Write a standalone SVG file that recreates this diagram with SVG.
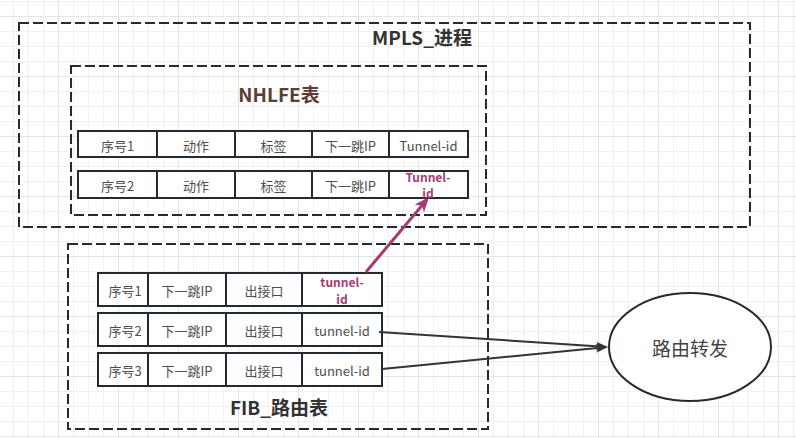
<svg xmlns="http://www.w3.org/2000/svg" width="796" height="438" viewBox="0 0 796 438">
  <defs>
    <pattern id="grid" x="-2" y="16" width="60" height="60" patternUnits="userSpaceOnUse">
      <rect x="0" y="0" width="60" height="60" fill="#ffffff"/>
      <rect x="15" y="0" width="1" height="60" fill="#f0f0f0"/>
      <rect x="30" y="0" width="1" height="60" fill="#f0f0f0"/>
      <rect x="45" y="0" width="1" height="60" fill="#f0f0f0"/>
      <rect x="0" y="15" width="60" height="1" fill="#f0f0f0"/>
      <rect x="0" y="30" width="60" height="1" fill="#f0f0f0"/>
      <rect x="0" y="45" width="60" height="1" fill="#f0f0f0"/>
      <rect x="0" y="0" width="1" height="60" fill="#e4e4e4"/>
      <rect x="0" y="0" width="60" height="1" fill="#e4e4e4"/>
    </pattern>
    <marker id="arrowDark" viewBox="0 0 12 9" refX="4" refY="4.5" markerWidth="12" markerHeight="9" markerUnits="userSpaceOnUse" orient="auto">
      <path d="M0,0 L12,4.5 L0,9 L3,4.5 Z" fill="#333333"/>
    </marker>
    <marker id="arrowPink" viewBox="0 0 15 12" refX="5" refY="6" markerWidth="15" markerHeight="12" markerUnits="userSpaceOnUse" orient="auto">
      <path d="M0,0 L15,6 L0,12 L4,6 Z" fill="#a33b75"/>
    </marker>
  </defs>
  <style>
    .box { fill: none; stroke: #232a31; stroke-width: 2; stroke-dasharray: 10 4; }
    .cell { fill: #ffffff; stroke: #232a31; stroke-width: 2; }
    .t { font-family: "Noto Sans CJK SC", "Noto Sans", sans-serif; font-size: 13px; fill: #4d4d4d; text-anchor: middle; dominant-baseline: central; }
    .hl { font-family: "Noto Sans CJK SC", "Noto Sans", sans-serif; font-size: 12px; font-weight: bold; fill: #a33b75; text-anchor: middle; dominant-baseline: central; }
    .title { font-family: "Noto Sans CJK SC", "Noto Sans", sans-serif; font-size: 19px; font-weight: bold; fill: #333333; text-anchor: middle; dominant-baseline: central; }
    .edge { fill: none; stroke: #333333; stroke-width: 2; }
    .edgePink { fill: none; stroke: #a33b75; stroke-width: 3; }
  </style>

  <rect x="0" y="0" width="796" height="438" fill="url(#grid)"/>

  <g id="mpls">
    <rect class="box" x="19" y="23" width="731" height="204"/>
    <text class="title" x="422" y="36">MPLS_进程</text>
  </g>

  <g id="nhlfe">
    <rect class="box" x="71" y="66" width="415" height="149"/>
    <text class="title" x="279" y="93" style="fill:#5b3d33">NHLFE表</text>
  </g>

  <g id="nhlfe-row1">
    <rect class="cell" x="78" y="131" width="79" height="26"/>
    <rect class="cell" x="157" y="131" width="78" height="26"/>
    <rect class="cell" x="235" y="131" width="77" height="26"/>
    <rect class="cell" x="312" y="131" width="77" height="26"/>
    <rect class="cell" x="389" y="131" width="79" height="26"/>
    <text class="t" x="117.5" y="145">序号1</text>
    <text class="t" x="196" y="145">动作</text>
    <text class="t" x="273.5" y="145">标签</text>
    <text class="t" x="350.5" y="145">下一跳IP</text>
    <text class="t" x="428.5" y="145">Tunnel-id</text>
  </g>

  <g id="nhlfe-row2">
    <rect class="cell" x="78" y="171" width="79" height="27"/>
    <rect class="cell" x="157" y="171" width="78" height="27"/>
    <rect class="cell" x="235" y="171" width="77" height="27"/>
    <rect class="cell" x="312" y="171" width="77" height="27"/>
    <rect class="cell" x="389" y="171" width="79" height="27"/>
    <text class="t" x="117.5" y="185">序号2</text>
    <text class="t" x="196" y="185">动作</text>
    <text class="t" x="273.5" y="185">标签</text>
    <text class="t" x="350.5" y="185">下一跳IP</text>
    <text class="hl" x="428" y="176">Tunnel-</text>
    <text class="hl" x="428" y="192.5">id</text>
  </g>

  <g id="fib">
    <rect class="box" x="68" y="244" width="420" height="185"/>
    <text class="title" x="279" y="406">FIB_路由表</text>
  </g>

  <g id="fib-row1">
    <rect class="cell" x="98" y="273" width="50" height="33"/>
    <rect class="cell" x="148" y="273" width="78" height="33"/>
    <rect class="cell" x="226" y="273" width="76" height="33"/>
    <rect class="cell" x="302" y="273" width="80" height="33"/>
    <text class="t" x="125" y="290">序号1</text>
    <text class="t" x="187" y="290">下一跳IP</text>
    <text class="t" x="264" y="290">出接口</text>
    <text class="hl" x="342" y="281.5">tunnel-</text>
    <text class="hl" x="342" y="298">id</text>
  </g>

  <g id="fib-row2">
    <rect class="cell" x="98" y="313" width="50" height="33"/>
    <rect class="cell" x="148" y="313" width="78" height="33"/>
    <rect class="cell" x="226" y="313" width="76" height="33"/>
    <rect class="cell" x="302" y="313" width="80" height="33"/>
    <text class="t" x="125" y="330">序号2</text>
    <text class="t" x="187" y="330">下一跳IP</text>
    <text class="t" x="264" y="330">出接口</text>
    <text class="t" x="342" y="330">tunnel-id</text>
  </g>

  <g id="fib-row3">
    <rect class="cell" x="98" y="353" width="50" height="33"/>
    <rect class="cell" x="148" y="353" width="78" height="33"/>
    <rect class="cell" x="226" y="353" width="76" height="33"/>
    <rect class="cell" x="302" y="353" width="80" height="33"/>
    <text class="t" x="125" y="370">序号3</text>
    <text class="t" x="187" y="370">下一跳IP</text>
    <text class="t" x="264" y="370">出接口</text>
    <text class="t" x="342" y="370">tunnel-id</text>
  </g>

  <g id="forward">
    <ellipse cx="690" cy="347" rx="81" ry="54" fill="#ffffff" stroke="#232a31" stroke-width="2"/>
    <text class="t" x="690" y="347" style="font-size:19px;fill:#444444">路由转发</text>
  </g>

  <g id="connectors">
    <line class="edgePink" x1="366" y1="272" x2="422.6" y2="204.7" marker-end="url(#arrowPink)"/>
    <line class="edge" x1="379" y1="332" x2="600" y2="346.5" marker-end="url(#arrowDark)"/>
    <line class="edge" x1="382" y1="369" x2="600" y2="347.8" marker-end="url(#arrowDark)"/>
  </g>
</svg>
